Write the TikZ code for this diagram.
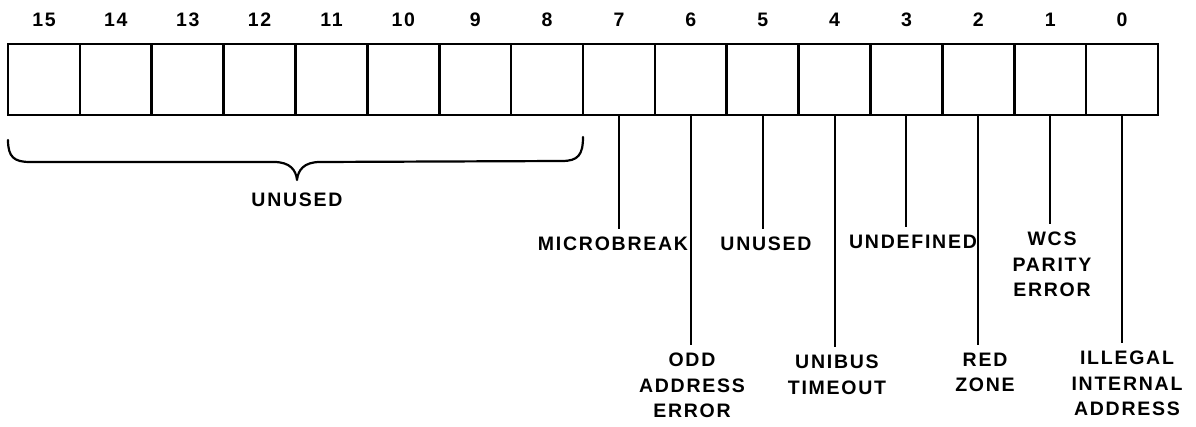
\documentclass[tikz,border=0pt]{standalone}
\usepackage{fontspec}
\newfontfamily\lblfont[LetterSpace=9]{Liberation Sans}
\begin{document}
\begin{tikzpicture}[x=1pt,y=-1pt,
  cell/.style={draw, line width=2.6pt, minimum width=71.875pt, minimum height=71pt,
    inner sep=0pt, outer sep=0pt, anchor=north west},
  bitnum/.style={font=\lblfont\bfseries\fontsize{19.5}{21}\selectfont, inner sep=0pt},
  lbl/.style={font=\lblfont\bfseries\fontsize{19.5}{25.5}\selectfont, align=center,
    inner sep=0pt, outer ysep=8pt, anchor=north},
  lead/.style={line width=2pt},
  bracestyle/.style={line width=2.2pt, line cap=round, line join=round}]
\useasboundingbox (0,0) rectangle (1196,427);
% register cells
\foreach \i in {0,...,15} {
  \node[cell] (c\i) at ({8+71.875*(15-\i)},44) {};
  \node[bitnum] (n\i) at ({8+71.875*(15-\i)+36},20) {\i};
}
% brace over bits 15..8
\draw[bracestyle] (8,140) .. controls (8,157) and (14,162) .. (30,162)
  -- (274,162) .. controls (290,162) and (296,170) .. (297,180)
  .. controls (298,170) and (304,162) .. (320,162)
  -- (562,161) .. controls (578,161) and (583,155) .. (583,137);
\node[lbl, anchor=center, outer ysep=0pt] (ubr) at (297,200) {UNUSED};
% labels
\node[lbl] (l7) at (613,229) {MICROBREAK};
\node[lbl] (l6) at (692,345) {ODD\\ADDRESS\\ERROR};
\node[lbl] (l5) at (766,229) {UNUSED};
\node[lbl] (l4) at (837,347) {UNIBUS\\TIMEOUT};
\node[lbl] (l3) at (913,227) {UNDEFINED};
\node[lbl] (l2) at (985,345) {RED\\ZONE};
\node[lbl] (l1) at (1052,224) {WCS\\PARITY\\ERROR};
\node[lbl] (l0) at (1127,343) {ILLEGAL\\INTERNAL\\ADDRESS};
% leaders
\foreach \i in {0,...,7} {
  \draw[lead] (c\i.south) -- (c\i.south |- l\i.north);
}
\end{tikzpicture}
\end{document}
